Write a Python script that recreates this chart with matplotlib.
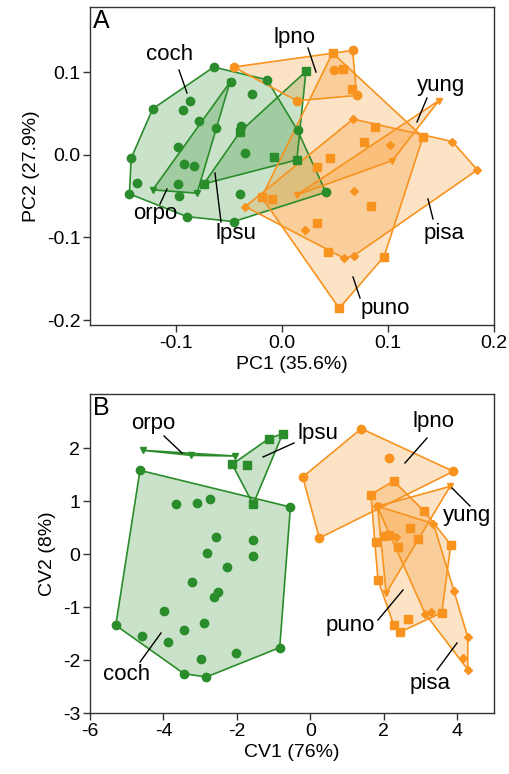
import numpy as np
import matplotlib
matplotlib.use("Agg")
import matplotlib.pyplot as plt

plt.rcParams['font.family'] = ['Liberation Sans', 'DejaVu Sans']
plt.rcParams['axes.unicode_minus'] = False

GREEN = '#2a8c2a'
ORANGE = '#f7931e'

# ---------------- Panel A: PCA ----------------
a_coch_x = [-0.0643, -0.048, -0.0285, -0.0141, -0.0863, -0.0935, -0.1218, -0.0779, -0.0621, -0.0386,
            0.0148, -0.0982, -0.0348, -0.1422, -0.092, -0.0826, -0.1365, -0.0982, -0.1438, -0.0967,
            -0.0393, -0.0895, -0.0455, 0.0414]
a_coch_y = [0.1063, 0.0876, 0.0739, 0.0909, 0.0646, 0.0537, 0.0558, 0.0412, 0.0324, 0.0352,
            0.0295, 0.0093, 0.0021, -0.004, -0.0109, -0.013, -0.0343, -0.0352, -0.0473, -0.0493,
            -0.0473, -0.0748, -0.0808, -0.0452]
a_lpsu_x = [0.0226, -0.0393, -0.0073, 0.0141, -0.0737]
a_lpsu_y = [0.101, 0.0282, -0.0024, -0.0061, -0.0352]
a_orpo_x = [-0.1218, -0.08, -0.049]
a_orpo_y = [-0.0424, -0.0464, 0.088]
a_lpno_x = [-0.0455, 0.0141, 0.0666, 0.0706, 0.0492]
a_lpno_y = [0.1063, 0.0655, 0.1264, 0.0719, 0.103]
a_puno_x = [0.0477, 0.0572, 0.0659, 0.0876, 0.133, 0.0775, 0.0455, 0.0327, -0.0191, -0.0094,
            0.0838, 0.0327, 0.043, 0.0963, 0.054]
a_puno_y = [0.1233, 0.1039, 0.08, 0.0343, 0.0215, 0.0154, -0.004, -0.0149, -0.0513, -0.0537,
            -0.0615, -0.0821, -0.1179, -0.1233, -0.1858]
a_pisa_x = [0.0671, 0.1017, 0.1607, 0.1843, 0.0681, -0.0346, 0.0219, 0.0587, 0.0675]
a_pisa_y = [0.0433, 0.0121, 0.0161, -0.0182, -0.0433, -0.0627, -0.0909, -0.1252, -0.1224]
a_yung_x = [0.1481, 0.1042, 0.0141]
a_yung_y = [0.0658, -0.0069, -0.0485]

# ---------------- Panel B: CVA ----------------
b_coch_x = [-4.639, -0.543, -3.668, -3.079, -2.745, -2.582, -1.557, -2.807, -1.568, -2.283,
            -3.215, -2.508, -2.628, -3.986, -5.299, -2.899, -3.443, -4.573, -3.878, -0.834,
            -2.019, -2.989, -3.443, -2.834]
b_coch_y = [1.579, 0.887, 0.951, 0.962, 1.045, 0.321, 0.258, 0.019, -0.038, -0.245,
            -0.528, -0.717, -0.811, -1.081, -1.345, -1.294, -1.426, -1.553, -1.66, -1.766,
            -1.868, -1.974, -2.257, -2.321]
b_lpsu_x = [-1.133, -0.753, -2.128, -1.72, -1.557]
b_lpsu_y = [2.177, 2.272, 1.692, 1.674, 0.938]
b_orpo_x = [-4.557, -3.242, -2.057]
b_orpo_y = [1.957, 1.862, 1.85]
b_lpno_x = [1.386, 2.128, 3.894, -0.209, 0.245]
b_lpno_y = [2.366, 1.811, 1.56, 1.453, 0.302]
b_puno_x = [2.264, 1.649, 3.098, 2.717, 1.992, 2.128, 1.793, 2.399, 2.927, 3.823,
            1.84, 3.579, 2.655, 2.264, 2.446]
b_puno_y = [1.377, 1.121, 0.811, 0.498, 0.334, 0.353, 0.226, 0.132, 0.277, 0.177,
            -0.483, -1.106, -1.219, -1.332, -1.472]
b_pisa_x = [1.813, 2.337, 3.351, 3.913, 3.125, 3.288, 4.285, 4.149, 4.285]
b_pisa_y = [0.906, 0.321, 0.574, -0.704, -1.125, -1.1, -1.566, -1.955, -2.181]
b_yung_x = [3.804, 1.829, 2.065]
b_yung_y = [1.277, 0.9, -0.736]

groups = ['coch', 'lpsu', 'orpo', 'lpno', 'puno', 'pisa', 'yung']
group_color = {'coch': GREEN, 'lpsu': GREEN, 'orpo': GREEN,
               'lpno': ORANGE, 'puno': ORANGE, 'pisa': ORANGE, 'yung': ORANGE}
group_marker = {'coch': ('o', 6), 'lpsu': ('s', 6), 'orpo': ('v', 5),
                'lpno': ('o', 6), 'puno': ('s', 6), 'pisa': ('D', 4), 'yung': ('v', 5)}

dataA = {'coch': (a_coch_x, a_coch_y), 'lpsu': (a_lpsu_x, a_lpsu_y), 'orpo': (a_orpo_x, a_orpo_y),
         'lpno': (a_lpno_x, a_lpno_y), 'puno': (a_puno_x, a_puno_y), 'pisa': (a_pisa_x, a_pisa_y),
         'yung': (a_yung_x, a_yung_y)}
dataB = {'coch': (b_coch_x, b_coch_y), 'lpsu': (b_lpsu_x, b_lpsu_y), 'orpo': (b_orpo_x, b_orpo_y),
         'lpno': (b_lpno_x, b_lpno_y), 'puno': (b_puno_x, b_puno_y), 'pisa': (b_pisa_x, b_pisa_y),
         'yung': (b_yung_x, b_yung_y)}


def hull(xs, ys):
    pts = sorted(set(zip(xs, ys)))
    if len(pts) <= 2:
        return pts

    def cross(o, a, b):
        return (a[0] - o[0]) * (b[1] - o[1]) - (a[1] - o[1]) * (b[0] - o[0])
    lower, upper = [], []
    for p in pts:
        while len(lower) >= 2 and cross(lower[-2], lower[-1], p) <= 0:
            lower.pop()
        lower.append(p)
    for p in reversed(pts):
        while len(upper) >= 2 and cross(upper[-2], upper[-1], p) <= 0:
            upper.pop()
        upper.append(p)
    return lower[:-1] + upper[:-1]


def draw_panel(ax, data):
    for g in groups:
        xs, ys = data[g]
        h = hull(xs, ys)
        c = group_color[g]
        poly = plt.Polygon(h, closed=True, facecolor=c, alpha=0.25, edgecolor='none', zorder=1)
        ax.add_patch(poly)
        poly2 = plt.Polygon(h, closed=True, facecolor='none', edgecolor=c, lw=1.2, zorder=2)
        ax.add_patch(poly2)
    for g in groups:
        xs, ys = data[g]
        m, s = group_marker[g]
        ax.plot(xs, ys, ls='none', marker=m, ms=s, color=group_color[g], mec=group_color[g], zorder=3)


def style(ax):
    for sp in ax.spines.values():
        sp.set_color('#333333')
        sp.set_linewidth(1.0)
    ax.tick_params(direction='out', length=5, width=1, color='#333333', labelsize=14,
                   top=False, right=False, pad=2)


fig = plt.figure(figsize=(5.1, 7.74), dpi=100)
W, H = 510, 774


def axes_px(l, t, r, b):
    return fig.add_axes([l / W, 1 - b / H, (r - l) / W, (b - t) / H])


axA = axes_px(90, 7, 494, 325)
draw_panel(axA, dataA)
axA.set_xlim(-0.181, 0.2)
axA.set_ylim(-0.206, 0.179)
axA.set_xticks([-0.1, 0.0, 0.1, 0.2])
axA.set_xticklabels(['-0.1', '0.0', '0.1', '0.2'])
axA.set_yticks([-0.2, -0.1, 0.0, 0.1])
axA.set_yticklabels(['-0.2', '-0.1', '0.0', '0.1'])
axA.set_xlabel('PC1 (35.6%)', fontsize=14, labelpad=3)
axA.set_ylabel('PC2 (27.9%)', fontsize=14, labelpad=5)
style(axA)
axA.text(0.008, 0.995, 'A', transform=axA.transAxes, fontsize=18, va='top', ha='left')

axB = axes_px(90, 394, 494, 713)
draw_panel(axB, dataB)
axB.set_xlim(-6, 5)
axB.set_ylim(-3, 3.02)
axB.set_xticks([-6, -4, -2, 0, 2, 4])
axB.set_yticks([-3, -2, -1, 0, 1, 2])
axB.set_xlabel('CV1 (76%)', fontsize=14, labelpad=3)
axB.set_ylabel('CV2 (8%)', fontsize=14, labelpad=5)
style(axB)
axB.text(0.008, 0.995, 'B', transform=axB.transAxes, fontsize=18, va='top', ha='left')


# labels with leader lines, given in pixel coordinates of the figure
def px2data(ax, px, py):
    inv = ax.transData.inverted()
    disp = (px, H - py)
    return inv.transform(disp)


def label(ax, text, tx, ty, x0, y0, x1, y1):
    p0 = px2data(ax, x0, y0)
    p1 = px2data(ax, x1, y1)
    ax.plot([p0[0], p1[0]], [p0[1], p1[1]], color='black', lw=1.0, zorder=5)
    pt = px2data(ax, tx, ty)
    ax.text(pt[0], pt[1], text, fontsize=16, ha='center', va='center', zorder=6)


fig.canvas.draw()
label(axA, 'coch', 170, 55, 179, 70, 187, 93)
label(axA, 'orpo', 155, 214, 167, 189, 160, 204)
label(axA, 'lpsu', 236, 233, 215, 173, 221, 222)
label(axA, 'lpno', 294, 38, 308, 48, 316, 72)
label(axA, 'yung', 441, 86, 427, 98, 417, 122)
label(axA, 'pisa', 444, 234, 428, 199, 433, 219)
label(axA, 'puno', 385, 309, 353, 277, 360, 298)

label(axB, 'orpo', 153, 424, 164, 436, 182, 453)
label(axB, 'lpsu', 318, 434, 263, 457, 294, 443)
label(axB, 'coch', 127, 675, 140, 662, 161, 633)
label(axB, 'lpno', 433, 421, 427, 438, 405, 463)
label(axB, 'yung', 467, 515, 452, 488, 470, 506)
label(axB, 'puno', 350, 625, 378, 620, 403, 590)
label(axB, 'pisa', 430, 684, 437, 670, 457, 643)

fig.savefig('out.png', dpi=100)
